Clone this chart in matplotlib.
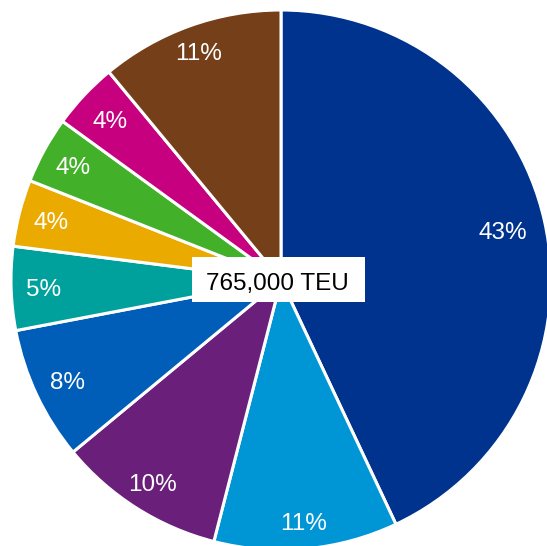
import numpy as np
import matplotlib.pyplot as plt
from matplotlib.patches import Rectangle

plt.rcParams['font.family'] = ['Liberation Sans', 'DejaVu Sans']

# share of throughput by segment, clockwise from 12 o'clock
shares = [43, 11, 10, 8, 5, 4, 4, 4, 11]
colors = ['#00338D', '#0096D6', '#6A1F7A', '#005EB8', '#00A19C',
          '#EAAA00', '#43B02A', '#C6007E', '#753F19']
label_dist = [0.84, 0.9, 0.89, 0.875, 0.88, 0.88, 0.88, 0.87, 0.9]
total_label = '765,000 TEU'

fig = plt.figure(figsize=(5.47, 5.46), dpi=100)
ax = fig.add_axes([0, 0, 1, 1])

wedges, _ = ax.pie(shares, colors=colors, startangle=90, counterclock=False,
                   wedgeprops=dict(edgecolor='white', linewidth=2.2))

# percentage labels inside each wedge
for w, s, d in zip(wedges, shares, label_dist):
    ang = np.deg2rad((w.theta1 + w.theta2) / 2)
    ax.text(d * np.cos(ang), d * np.sin(ang), f'{s}%', color='white',
            fontsize=17.5, ha='center', va='center_baseline')

# total in a white box at the centre
ax.add_patch(Rectangle((-0.33, -0.081), 0.64, 0.166, facecolor='white',
                       edgecolor='none', zorder=3))
ax.text(-0.012, -0.004, total_label, fontsize=17.5, ha='center',
        va='center_baseline', color='black', zorder=4)

ax.set_xlim(-281 / 270, (547 - 281) / 270)
ax.set_ylim((280 - 546) / 270, 280 / 270)
ax.set_aspect('auto')
ax.axis('off')

fig.savefig('out.png', dpi=100)
